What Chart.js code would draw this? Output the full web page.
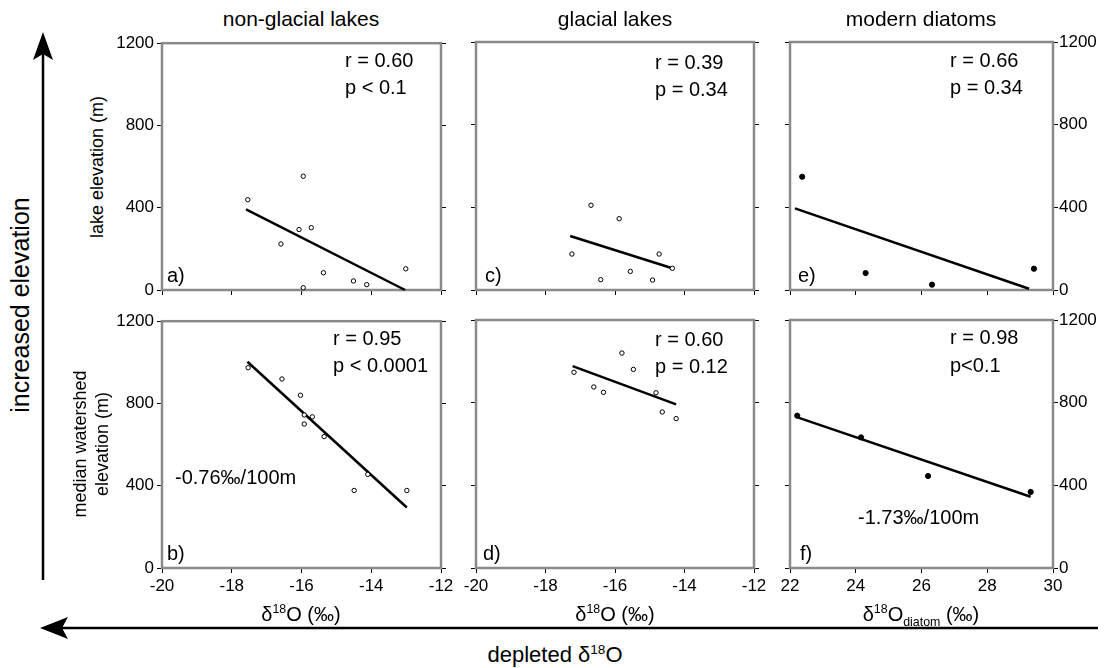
<!DOCTYPE html>
<html><head><meta charset="utf-8">
<script src="https://cdn.jsdelivr.net/npm/chart.js@4/dist/chart.umd.min.js"></script>
<style>
body{margin:0;background:#fff;width:1108px;height:668px;overflow:hidden;position:relative;font-family:"Liberation Sans",Arial,sans-serif;color:#000;}
canvas{position:absolute;}
.t{position:absolute;white-space:nowrap;}
.rot{position:absolute;white-space:nowrap;transform:translate(-50%,-50%) rotate(-90deg);text-align:center;}
sup,sub{font-size:62%;}
</style></head><body>
<script>
// ---------- DATA ----------
const deltaTicks  = [-20, -18, -16, -14, -12];
const diatomTicks = [22, 24, 26, 28, 30];
const elevTicks   = [0, 400, 800, 1200];

// a) non-glacial lakes, lake elevation
const ngLakeX = [-17.54, -15.95, -16.59, -16.07, -15.72, -15.37, -15.95, -14.51, -14.13, -13.01];
const ngLakeY = [439, 553, 224, 294, 303, 84, 11, 44, 26, 103];
const ngLakeFitX = [-17.59, -13.03];
const ngLakeFitY = [392, 0];
// b) non-glacial lakes, median watershed elevation
const ngShedX = [-17.53, -16.56, -16.03, -15.92, -15.69, -15.92, -15.35, -14.10, -14.49, -12.98];
const ngShedY = [974, 919, 840, 744, 735, 700, 639, 455, 377, 377];
const ngShedFitX = [-17.55, -12.98];
const ngShedFitY = [1003, 294];
// c) glacial lakes, lake elevation
const glLakeX = [-17.24, -16.69, -15.88, -16.41, -15.56, -14.73, -14.92, -14.35];
const glLakeY = [174, 410, 345, 50, 90, 174, 48, 105];
const glLakeFitX = [-17.29, -14.35];
const glLakeFitY = [261, 105];
// d) glacial lakes, median watershed elevation
const glShedX = [-17.18, -16.61, -16.33, -15.80, -15.47, -14.82, -14.64, -14.24];
const glShedY = [947, 876, 850, 1040, 961, 848, 755, 723];
const glShedFitX = [-17.22, -14.24];
const glShedFitY = [977, 792];
// e) modern diatoms, lake elevation
const dtLakeX = [22.37, 24.30, 26.32, 29.42];
const dtLakeY = [548, 82, 26, 103];
const dtLakeFitX = [22.15, 29.27];
const dtLakeFitY = [395, 6];
// f) modern diatoms, median watershed elevation
const dtShedX = [22.22, 24.16, 26.20, 29.32];
const dtShedY = [737, 632, 445, 368];
const dtShedFitX = [22.23, 29.32];
const dtShedFitY = [729, 345];

// ---------- LAYOUT ----------
const cols = [{l:162, r:441}, {l:476, r:754}, {l:790, r:1053}];
const rows = [{t:42, b:290}, {t:320, b:568}];
const FONT = '"Liberation Sans", Arial, sans-serif';
Chart.defaults.font.family = FONT;
Chart.defaults.font.size = 17;
Chart.defaults.color = '#000';

const framePlugin = {
  id: 'frame',
  beforeDatasetsDraw(chart) {
    const a = chart.chartArea, ctx = chart.ctx;
    ctx.save();
    ctx.strokeStyle = '#8a8a8a';
    ctx.lineWidth = 2.5;
    ctx.strokeRect(a.left, a.top, a.right - a.left, a.bottom - a.top);
    ctx.restore();
  }
};

function pts(xs, ys) { return xs.map((x, i) => ({x: x, y: ys[i]})); }

function panel(col, row, xs, ys, fx, fy, xTicks, filled, showX, showYL, showYR) {
  const L = 55, R = 55, T = 12, B = 40;
  const w = col.r - col.l + L + R, h = row.b - row.t + T + B;
  const cv = document.createElement('canvas');
  cv.width = w; cv.height = h;
  cv.style.width = w + 'px'; cv.style.height = h + 'px';
  cv.style.left = (col.l - L) + 'px'; cv.style.top = (row.t - T) + 'px';
  document.body.appendChild(cv);
  const grid = {drawOnChartArea:false, drawTicks:true, tickLength:5, color:'#000', lineWidth:1};
  const tickFont = {family: FONT, size: 17};
  const fmt = v => String(v);
  new Chart(cv, {
    type: 'scatter',
    data: {datasets: [
      {data: pts(xs, ys), pointRadius: filled ? 2.6 : 2.2, pointBorderWidth: 1,
       pointBorderColor: '#000', pointBackgroundColor: filled ? '#000' : '#fff',
       showLine: false, clip: false, order: 1},
      {data: pts(fx, fy), showLine: true, borderColor: '#000', borderWidth: 2.5,
       pointRadius: 0, clip: false, order: 2}
    ]},
    options: {
      responsive: false, animation: false, devicePixelRatio: 1,
      layout: {padding: {top: T, left: 0, right: 0, bottom: 0}},
      plugins: {legend: {display: false}, tooltip: {enabled: false}},
      scales: {
        x: {type: 'linear', position: 'bottom', min: xTicks[0], max: xTicks[xTicks.length - 1],
            afterBuildTicks: s => { s.ticks = xTicks.map(v => ({value: v})); },
            afterFit: s => { s.height = B; },
            ticks: {display: showX, font: tickFont, color: '#000', padding: 3, maxRotation: 0, autoSkip: false, callback: fmt},
            grid: grid, border: {display: false}},
        y: {type: 'linear', position: 'left', min: 0, max: 1200,
            afterBuildTicks: s => { s.ticks = elevTicks.map(v => ({value: v})); },
            afterFit: s => { s.width = L; },
            ticks: {display: showYL, font: tickFont, color: '#000', padding: 3, autoSkip: false, callback: fmt},
            grid: grid, border: {display: false}},
        y2: {type: 'linear', axis: 'y', position: 'right', min: 0, max: 1200,
            afterBuildTicks: s => { s.ticks = elevTicks.map(v => ({value: v})); },
            afterFit: s => { s.width = R; },
            ticks: {display: showYR, font: tickFont, color: '#000', padding: 1, autoSkip: false, callback: fmt},
            grid: grid, border: {display: false}}
      }
    },
    plugins: [framePlugin]
  });
}

panel(cols[0], rows[0], ngLakeX, ngLakeY, ngLakeFitX, ngLakeFitY, deltaTicks, false, false, true, false);
panel(cols[0], rows[1], ngShedX, ngShedY, ngShedFitX, ngShedFitY, deltaTicks, false, true, true, false);
panel(cols[1], rows[0], glLakeX, glLakeY, glLakeFitX, glLakeFitY, deltaTicks, false, false, false, false);
panel(cols[1], rows[1], glShedX, glShedY, glShedFitX, glShedFitY, deltaTicks, false, true, false, false);
panel(cols[2], rows[0], dtLakeX, dtLakeY, dtLakeFitX, dtLakeFitY, diatomTicks, true, false, false, true);
panel(cols[2], rows[1], dtShedX, dtShedY, dtShedFitX, dtShedFitY, diatomTicks, true, true, false, true);

// ---------- TEXT ----------
function txt(html, left, cy, size, center) {
  const d = document.createElement('div');
  d.className = 't';
  d.innerHTML = html;
  d.style.fontSize = size + 'px';
  d.style.lineHeight = size + 'px';
  d.style.height = size + 'px';
  d.style.top = (cy - size / 2) + 'px';
  if (center) { d.style.left = left + 'px'; d.style.transform = 'translateX(-50%)'; }
  else d.style.left = left + 'px';
  document.body.appendChild(d);
}
function rot(html, cx, cy, size, lh) {
  const d = document.createElement('div');
  d.className = 'rot';
  d.innerHTML = html;
  d.style.fontSize = size + 'px';
  d.style.lineHeight = (lh || size) + 'px';
  d.style.left = cx + 'px'; d.style.top = cy + 'px';
  document.body.appendChild(d);
}
const ANN = 20;
txt('r = 0.60', 345, 60, ANN); txt('p &lt; 0.1', 345, 87, ANN);
txt('r = 0.95', 333, 338, ANN); txt('p &lt; 0.0001', 333, 365, ANN);
txt('-0.76‰/100m', 175, 477, ANN);
txt('r = 0.39', 655, 62, ANN); txt('p = 0.34', 655, 89, ANN);
txt('r = 0.60', 655, 339, ANN); txt('p = 0.12', 655, 366, ANN);
txt('r = 0.66', 950, 60, ANN); txt('p = 0.34', 950, 87, ANN);
txt('r = 0.98', 950, 337, ANN); txt('p&lt;0.1', 950, 365, ANN);
txt('-1.73‰/100m', 858, 517, ANN);
txt('a)', 167, 275, ANN); txt('b)', 167, 553, ANN);
txt('c)', 485, 275, ANN); txt('d)', 483, 553, ANN);
txt('e)', 798, 275, ANN); txt('f)', 800, 553, ANN);

txt('non-glacial lakes', 301, 18, 21, true);
txt('glacial lakes', 615, 18, 21, true);
txt('modern diatoms', 921, 18, 21, true);

txt('δ<sup>18</sup>O (‰)', 301, 609, 20, true);
txt('δ<sup>18</sup>O (‰)', 615, 609, 20, true);
txt('δ<sup>18</sup>O<sub>diatom</sub> (‰)', 921, 609, 20, true);
txt('depleted δ<sup>18</sup>O', 555, 650, 22, true);

rot('lake elevation (m)', 97, 167, 18);
rot('median watershed<br>elevation (m)', 91, 444, 18, 22);
rot('increased elevation', 20, 305, 25);
</script>
<svg width="1108" height="668" style="position:absolute;left:0;top:0;pointer-events:none">
  <line x1="43" y1="580" x2="43" y2="52" stroke="#000" stroke-width="2.5"/>
  <polygon points="43,32 33,60 43,54 53,60" fill="#000"/>
  <line x1="1098" y1="628" x2="60" y2="628" stroke="#000" stroke-width="2.5"/>
  <polygon points="40,628 68,617 62,628 68,639" fill="#000"/>
</svg>
</body></html>
